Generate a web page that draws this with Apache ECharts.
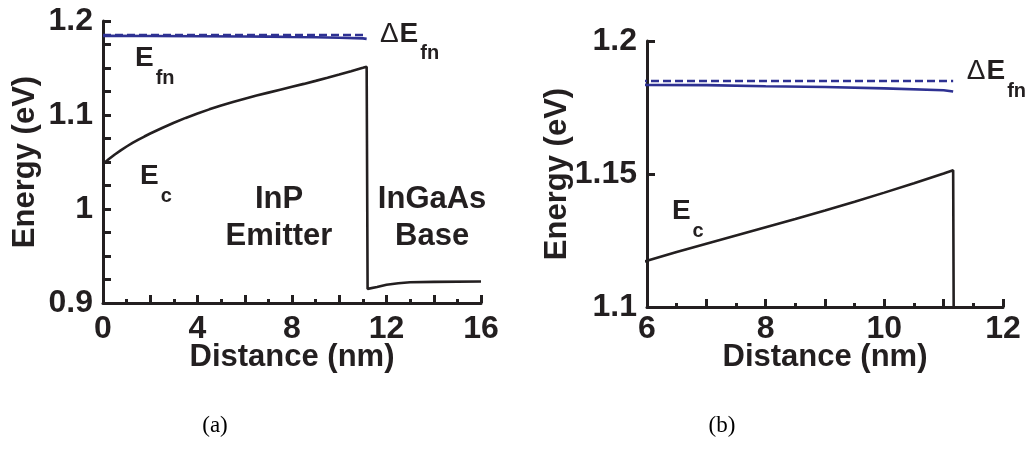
<!DOCTYPE html>
<html>
<head>
<meta charset="utf-8">
<script src="https://cdn.jsdelivr.net/npm/echarts@6/dist/echarts.min.js"></script>
<style>
  html, body { margin: 0; padding: 0; background: #fff; }
  #chart { width: 1034px; height: 468px; }
</style>
</head>
<body>
<div id="chart"></div>
<script>
// ---- data ----
const ecX   = [0, 0.25, 0.5, 0.75, 1, 1.25, 1.5, 1.75, 2, 2.5, 3, 3.5, 4, 4.5, 5, 5.5, 6, 6.5, 7, 7.5, 8, 8.5, 9, 9.5, 10, 10.5, 11, 11.16,
               11.2, 11.6, 12, 12.5, 13, 14, 16];
const ecY   = [1.048, 1.0532, 1.058, 1.0624, 1.0665, 1.0703, 1.0738, 1.0771, 1.0803, 1.0862, 1.0918, 1.0969, 1.1016, 1.106, 1.1101, 1.1139,
               1.1174, 1.1207, 1.1238, 1.1269, 1.130, 1.1331, 1.1363, 1.1396, 1.143, 1.1465, 1.1502, 1.1514,
               0.915, 0.917, 0.9195, 0.921, 0.922, 0.9225, 0.9228];
const efnX  = [0, 2, 4, 6, 7, 8, 9, 10, 11, 11.16];
const efnY  = [1.1842, 1.1840, 1.1838, 1.1835, 1.1834, 1.1830, 1.1827, 1.1822, 1.1815, 1.1810];
const dEfnX = [0, 11.16];
const dEfnY = [1.185, 1.185];
const xTicksA = [0, 4, 8, 12, 16];
const xTicksB = [6, 8, 10, 12];
const captions = ['(a)', '(b)'];

const zip = (xs, ys) => xs.map((x, i) => [x, ys[i]]);

const INK = '#231f20';
const BLUE = '#2e3192';
const FONT = '"Liberation Sans", Arial, sans-serif';

function xAxisCfg(gridIndex, min, max, interval, labels, nameGap, margin) {
  return {
    type: 'value', gridIndex, min, max, interval,
    name: 'Distance (nm)', nameLocation: 'middle', nameGap, nameMoveOverlap: false,
    nameTextStyle: { color: INK, fontSize: 31, fontWeight: 'bold', fontFamily: FONT },
    axisLine: { show: true, onZero: false, lineStyle: { color: INK, width: 3 } },
    axisTick: { show: true, inside: true, length: 8, lineStyle: { color: INK, width: 3 } },
    minorTick: { show: true, splitNumber: 2, length: 4, lineStyle: { color: INK, width: 3 } },
    splitLine: { show: false },
    axisLabel: {
      color: INK, fontSize: 32, fontWeight: 'bold', fontFamily: FONT, margin,
      formatter: v => labels.some(t => Math.abs(t - v) < 1e-9) ? String(v) : ''
    }
  };
}
function yAxisCfg(gridIndex, min, max, interval, minorSplit, nameGap) {
  return {
    type: 'value', gridIndex, min, max, interval,
    name: 'Energy (eV)', nameLocation: 'middle', nameGap, nameRotate: 90, nameMoveOverlap: false,
    nameTextStyle: { color: INK, fontSize: 31, fontWeight: 'bold', fontFamily: FONT },
    axisLine: { show: true, onZero: false, lineStyle: { color: INK, width: 3 } },
    axisTick: { show: true, inside: true, length: 8, lineStyle: { color: INK, width: 3 } },
    minorTick: { show: minorSplit > 0, splitNumber: minorSplit || 1, length: 8, lineStyle: { color: INK, width: 3 } },
    splitLine: { show: false },
    axisLabel: { color: INK, fontSize: 32, fontWeight: 'bold', fontFamily: FONT, margin: 10 }
  };
}
function seriesFor(i) {
  return [
    { type: 'line', xAxisIndex: i, yAxisIndex: i, data: zip(ecX, ecY), showSymbol: false, clip: true,
      lineStyle: { color: INK, width: 2.6 }, z: 3 },
    { type: 'line', xAxisIndex: i, yAxisIndex: i, data: zip(efnX, efnY), showSymbol: false, clip: true,
      lineStyle: { color: BLUE, width: 2.6 }, z: 3 },
    { type: 'line', xAxisIndex: i, yAxisIndex: i, data: zip(dEfnX, dEfnY), showSymbol: false, clip: true,
      lineStyle: { color: BLUE, width: 2.5, type: [8, 4] }, z: 4 }
  ];
}

const chart = echarts.init(document.getElementById('chart'), null, { renderer: 'canvas' });
chart.setOption({
  animation: false,
  backgroundColor: '#fff',
  grid: [
    { left: 103, top: 21, width: 378, height: 282 },
    { left: 647, top: 41, width: 356, height: 266 }
  ],
  xAxis: [
    xAxisCfg(0, 0, 16, 2, xTicksA, 39, 10),
    xAxisCfg(1, 6, 12, 1, xTicksB, 35, 6)
  ],
  yAxis: [
    yAxisCfg(0, 0.9, 1.2, 0.1, 4, 62),
    yAxisCfg(1, 1.1, 1.2, 0.05, 0, 74)
  ],
  series: [...seriesFor(0), ...seriesFor(1)]
});

// ---- annotations anchored in data coordinates ----
const annotations = [
  { grid: 0, x: 11.72, y: 1.1862, pre: 'Δ', main: 'E', sub: 'fn' },
  { grid: 0, x: 1.355, y: 1.1606, pre: '',  main: 'E', sub: 'fn' },
  { grid: 0, x: 1.566, y: 1.0351, pre: '',  main: 'E', sub: 'c'  },
  { grid: 1, x: 11.39, y: 1.1887, pre: 'Δ', main: 'E', sub: 'fn' },
  { grid: 1, x: 6.42,  y: 1.1359, pre: '',  main: 'E', sub: 'c'  }
];
const regionLabels = [
  { grid: 0, x: 7.45,  y: 0.991, text: 'InP\nEmitter' },
  { grid: 0, x: 13.93, y: 0.991, text: 'InGaAs\nBase' }
];

const ctx = document.createElement('canvas').getContext('2d');
function measure(t, font) {
  ctx.font = font;
  return ctx.measureText(t).width;
}
const F_PRE = '28px ' + FONT;
const F_MAIN = 'bold 28px ' + FONT;
const F_SUB = 'bold 20px ' + FONT;

const g = [];
annotations.forEach(a => {
  const p = chart.convertToPixel({ gridIndex: a.grid }, [a.x, a.y]);
  let x = p[0];
  if (a.pre) {
    g.push({ type: 'text', x, y: p[1],
      style: { text: a.pre, fill: INK, font: F_PRE, textAlign: 'left', textVerticalAlign: 'middle' } });
    x += measure(a.pre, F_PRE) + 1;
  }
  g.push({ type: 'text', x, y: p[1],
    style: { text: a.main, fill: INK, font: F_MAIN, textAlign: 'left', textVerticalAlign: 'middle' } });
  x += measure(a.main, F_MAIN) + 2;
  g.push({ type: 'text', x, y: p[1] + 20,
    style: { text: a.sub, fill: INK, font: F_SUB, textAlign: 'left', textVerticalAlign: 'middle' } });
});
regionLabels.forEach(r => {
  const p = chart.convertToPixel({ gridIndex: r.grid }, [r.x, r.y]);
  g.push({ type: 'text', x: p[0], y: p[1],
    style: { text: r.text, fill: INK, font: 'bold 31px ' + FONT, lineHeight: 37, textAlign: 'center', textVerticalAlign: 'middle' } });
});
// captions below each panel
[215, 722].forEach((cx, k) => {
  g.push({ type: 'text', x: cx, y: 426,
    style: { text: captions[k], fill: '#000', font: '23px "Liberation Serif", "DejaVu Serif", serif', textAlign: 'center', textVerticalAlign: 'middle' } });
});
chart.setOption({ graphic: g });
</script>
</body>
</html>
